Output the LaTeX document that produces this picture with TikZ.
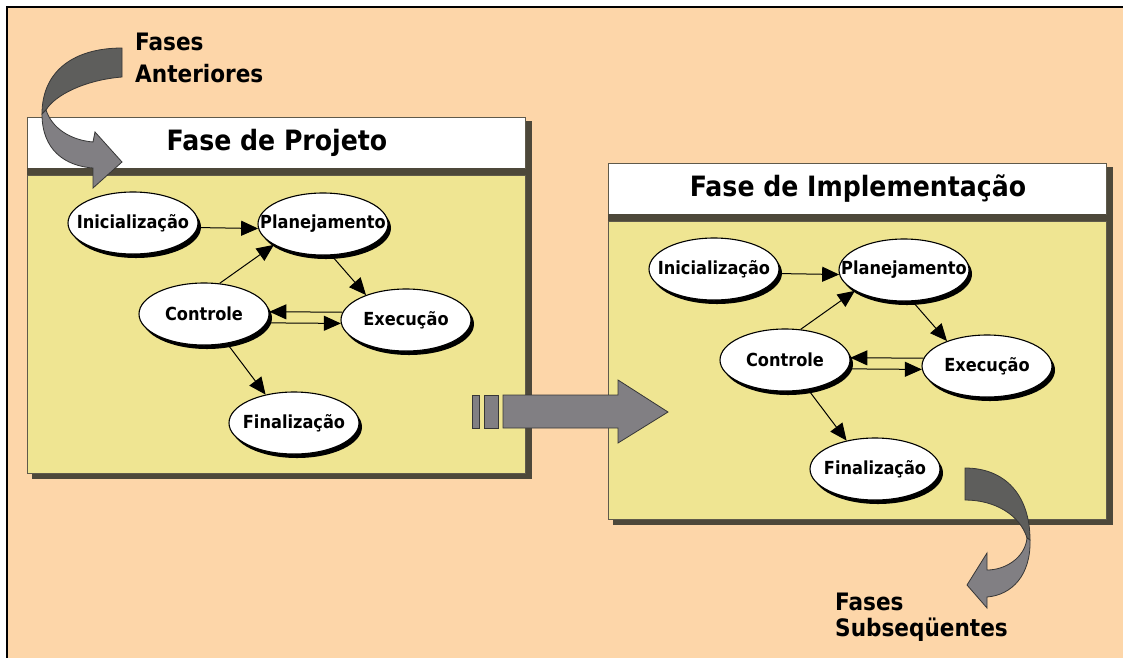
\documentclass[tikz,border=0pt]{standalone}
\usepackage{fontspec}
\setmainfont{DejaVu Sans Condensed Bold}
\usetikzlibrary{arrows.meta,shapes.geometric,shadows}

\definecolor{peach}{RGB}{253,214,169}
\definecolor{bodyc}{RGB}{239,229,146}
\definecolor{shadowc}{RGB}{77,72,58}
\definecolor{edgec}{RGB}{95,90,75}
\definecolor{arrowlight}{RGB}{129,127,131}
\definecolor{arrowdark}{RGB}{94,94,92}
\definecolor{arrowedge}{RGB}{55,55,55}

\tikzset{
  header/.style={fill=white, draw=edgec, line width=0.8pt},
  body/.style={fill=bodyc, draw=edgec, line width=0.8pt},
  ell/.style={ellipse, draw=black, line width=1.1pt, fill=white,
    minimum width=130pt, minimum height=62pt, inner sep=0pt,
    general shadow={fill=black, shadow xshift=3pt, shadow yshift=-4pt}},
  lbl/.style={font=\fontsize{18}{20}\selectfont, inner sep=0pt},
  title/.style={font=\fontsize{28}{30}\selectfont, inner sep=0pt},
  side/.style={font=\fontsize{24}{28}\selectfont, inner sep=0pt, anchor=base west},
  conn/.style={line width=1pt, -{Triangle[length=17pt,width=15pt]}},
  bigarrow/.style={fill=arrowlight, draw=arrowedge, line width=0.8pt},
  ribbonback/.style={fill=arrowdark, draw=arrowedge, line width=0.8pt},
  ribbonfront/.style={fill=arrowlight, draw=arrowedge, line width=0.8pt},
}

% One phase panel: header, body and the five activity ellipses
\newcommand{\phasepanel}[2]{%
  \fill[shadowc] (32,121) rectangle (532,479);
  \draw[header] (27,117) rectangle (525,168);
  \fill[shadowc] (27,168) rectangle (525,175);
  \draw[body] (27,175) rectangle (525,473);
  \node[title] (#1t) at (277,143) {#2};
  \node[ell, label={[lbl]center:Inicialização}] (#1i) at (133,223) {};
  \node[ell, label={[lbl]center:Planejamento}] (#1p) at (323,224) {};
  \node[ell, label={[lbl]center:Controle}] (#1c) at (204,314) {};
  \node[ell, label={[lbl]center:Execução}] (#1e) at (406,320) {};
  \node[ell, label={[lbl]center:Finalização}] (#1f) at (294,423) {};
  \draw[conn] (#1i.-4) -- (#1p.184);
  \draw[conn] (#1c.63) -- (#1p.203);
  \draw[conn] (#1p.-75) -- (#1e.148);
  \draw[conn] (#1e.173) -- (#1c.2);
  \draw[conn] (#1c.-8) -- (#1e.183);
  \draw[conn] (#1c.-52) -- (#1f.135);
}

\begin{document}
\begin{tikzpicture}[x=1pt,y=-1pt]
  \useasboundingbox (0,0) rectangle (1123,657);
  \clip (0,0) rectangle (1123,657);
  \fill[white] (0,0) rectangle (1123,657);
  \draw[fill=peach, line width=2pt] (7,7) rectangle (1140,680);

  % the two phases
  \phasepanel{a}{Fase de Projeto}
  \begin{scope}[shift={(581,46)}]
    \phasepanel{b}{Fase de Implementação}
  \end{scope}

  % broad arrow from one phase to the next
  \draw[bigarrow] (472,395) rectangle (479,428);
  \draw[bigarrow] (484,395) rectangle (498,428);
  \draw[bigarrow] (503,395) -- (618,395) -- (618,380) -- (668,412)
    -- (618,443) -- (618,428) -- (503,428) -- cycle;

  % incoming curved arrow
  \draw[ribbonback] (122,48) .. controls (75,48) and (42,70) .. (42,114)
    -- (46,110) .. controls (55,95) and (85,80) .. (122,77) -- cycle;
  \draw[ribbonfront] (42,114) .. controls (42,150) and (65,166) .. (93,168)
    -- (93,188) -- (122,162) -- (95,132) -- (93,142)
    .. controls (70,140) and (52,128) .. (46,110) -- cycle;

  % outgoing curved arrow
  \draw[ribbonback] (965,468) .. controls (1005,468) and (1030,495) .. (1030,540)
    -- (1027,538) .. controls (1020,515) and (995,500) .. (965,500) -- cycle;
  \draw[ribbonfront] (1030,540) .. controls (1031,575) and (1012,595) .. (987,597)
    -- (987,608) -- (967,585) -- (987,553) -- (987,570)
    .. controls (1005,570) and (1025,558) .. (1027,538) -- cycle;

  % labels of the neighbouring phases
  \node[side] (prev1) at (135,50) {Fases};
  \node[side] (prev2) at (135,82) {Anteriores};
  \node[side] (next1) at (835,610) {Fases};
  \node[side] (next2) at (835,636) {Subseqüentes};
\end{tikzpicture}
\end{document}
